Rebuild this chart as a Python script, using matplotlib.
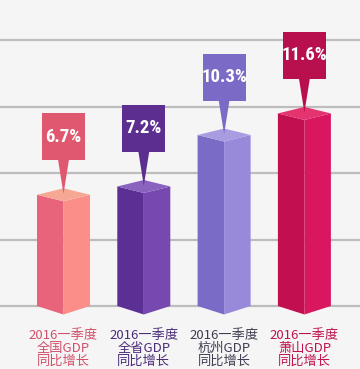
import matplotlib
matplotlib.use("Agg")
import matplotlib.pyplot as plt
from matplotlib.patches import Polygon, Rectangle
from matplotlib import font_manager

plt.rcParams['font.family'] = ['Noto Sans CJK SC', 'DejaVu Sans']

# ---- data ----
categories = ["2016一季度\n全国GDP\n同比增长",
              "2016一季度\n全省GDP\n同比增长",
              "2016一季度\n杭州GDP\n同比增长",
              "2016一季度\n萧山GDP\n同比增长"]
values = [6.7, 7.2, 10.3, 11.6]
value_labels = ["6.7%", "7.2%", "10.3%", "11.6%"]
grid_values = [0, 4, 8, 12, 16]

# ---- styles ----
left_colors = ["#e8647a", "#5c2f94", "#7a6cc6", "#c20f50"]
right_colors = ["#fb8e88", "#7648b0", "#9889da", "#d91760"]
top_colors = ["#f6a894", "#8a62c0", "#a99ce0", "#e4336f"]
box_colors = ["#e05870", "#5b2e90", "#7c6bc6", "#b80f4e"]
text_colors = ["#d2506a", "#4a2c78", "#3e3e50", "#c0124f"]

names = {f.name for f in font_manager.fontManager.ttflist}
narrow = None
for cand in ["Liberation Sans Narrow", "Roboto Condensed", "Open Sans Condensed", "DejaVu Sans"]:
    if cand in names:
        narrow = cand
        break

W, H = 360, 369
fig = plt.figure(figsize=(W / 100, H / 100), dpi=100)
fig.patch.set_facecolor("#f5f5f5")
ax = fig.add_axes([0, 0, 1, 1])
ax.set_facecolor("#f5f5f5")

px_x = 80.3   # pixels per category unit
px_y = 16.6   # pixels per value unit
x0_px = 63.5
y0_px = 306   # pixel row (from top) of value 0
ax.set_xlim(-x0_px / px_x, (W - x0_px) / px_x)
ax.set_ylim(-(H - y0_px) / px_y, y0_px / px_y)
ax.axis("off")

for g in grid_values:
    ax.axhline(g, color="#bdbdbd", lw=1.6, zorder=1)

hw = 26.5 / px_x        # half width of bar
dtop = 6.5 / px_y       # half depth of top diamond
dbot = 8.5 / px_y       # depth of bottom V
gap = 28 / px_y         # gap between bar top and callout box
bw = 43 / px_x          # box width
bh = 47 / px_y          # box height
pw = 5.5 / px_x         # pointer half width

label_size = 13.5 if narrow != "DejaVu Sans" else 10.5

for i, v in enumerate(values):
    ax.add_patch(Polygon([(i - hw, 0), (i, -dbot), (i, v - dtop), (i - hw, v)],
                         closed=True, fc=left_colors[i], ec="none", zorder=3))
    ax.add_patch(Polygon([(i, -dbot), (i + hw, 0), (i + hw, v), (i, v - dtop)],
                         closed=True, fc=right_colors[i], ec="none", zorder=3))
    ax.add_patch(Polygon([(i - hw, v), (i, v + dtop), (i + hw, v), (i, v - dtop)],
                         closed=True, fc=top_colors[i], ec="none", zorder=4))
    yb = v + dtop + gap
    ax.add_patch(Rectangle((i - bw / 2, yb), bw, bh, fc=box_colors[i], ec="none", zorder=5))
    ax.add_patch(Polygon([(i - pw, yb + 0.05), (i + pw, yb + 0.05), (i, v + 0.05)],
                         closed=True, fc=box_colors[i], ec="none", zorder=5))
    ax.text(i, yb + bh / 2, value_labels[i], color="white", fontsize=label_size,
            fontweight="bold", ha="center", va="center", zorder=6,
            family=[narrow, "DejaVu Sans"], fontstretch="condensed")
    ax.text(i, -3.72, categories[i], color=text_colors[i], fontsize=9.5,
            fontweight="medium", ha="center", va="bottom", linespacing=1.0, zorder=6)

fig.savefig("out.png", dpi=100, facecolor=fig.get_facecolor())
